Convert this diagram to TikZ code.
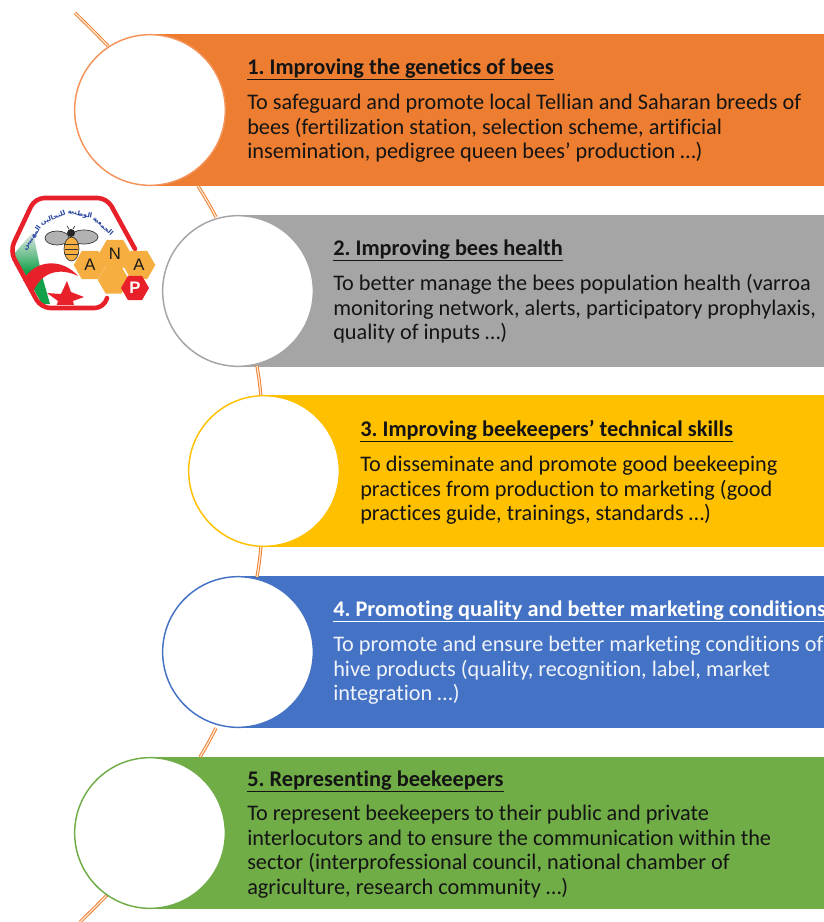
\documentclass[tikz,border=0pt]{standalone}
\usepackage{fontspec}
\setmainfont{Carlito}[Ligatures=NoCommon]
\newfontfamily\arabicfont[Script=Arabic]{DejaVu Sans}
\newfontfamily\logofont{Liberation Sans}
\TeXXeTstate=1
\usetikzlibrary{shapes.geometric,shadings}
\definecolor{cOrange}{HTML}{ED7D31}
\definecolor{cGrey}{HTML}{A5A5A5}
\definecolor{cYellow}{HTML}{FFC000}
\definecolor{cBlue}{HTML}{4472C4}
\definecolor{cGreen}{HTML}{70AD47}
\definecolor{cRing}{HTML}{F4935A}
\definecolor{cText}{HTML}{141414}
\definecolor{cHex}{HTML}{F5AE3F}
\definecolor{cRed}{HTML}{E8202A}
\definecolor{cFlag}{HTML}{12A04A}
\definecolor{cArab}{HTML}{1F3F9B}
\newcommand{\ttl}[1]{\underline{\smash{#1}\vphantom{gy}}}
\tikzset{
 bar/.style={anchor=west,inner sep=0pt,minimum height=113.5pt,draw=none},
 ring/.style={circle,fill=white,draw=#1,line width=1.1pt,minimum size=113pt,inner sep=0pt},
 link/.style={draw=cOrange,double=white!80!orange,double distance=1pt,line width=0.7pt},
 title/.style={anchor=base west,inner sep=0pt,font=\frenchspacing\fontsize{16.75}{18}\selectfont\bfseries,text=cText},
 body/.style={anchor=north west,inner sep=0pt,align=left,font=\frenchspacing\fontsize{16.7}{18.4}\selectfont,text=cText},
 hexa/.style={regular polygon,regular polygon sides=6,shape border rotate=0,fill=cHex,inner sep=0pt,minimum size=#1,font=\logofont\fontsize{12.5}{12.5}\selectfont,text=black!90},
 word/.style={inner sep=0pt,text=cArab,font=\arabicfont\bfseries\fontsize{5}{5.5}\selectfont}
}
\begin{document}
\begin{tikzpicture}[x=0.75pt,y=-0.75pt]
\useasboundingbox (0,0) rectangle (824,922);
% bars
\node[bar,fill=cOrange,minimum width=505.5pt] (b1) at (150,110) {};
\node[bar,fill=cGrey,minimum width=439.5pt] (b2) at (238,291) {};
\node[bar,fill=cYellow,minimum width=420pt] (b3) at (264,471) {};
\node[bar,fill=cBlue,minimum width=439.5pt] (b4) at (238,652) {};
\node[bar,fill=cGreen,minimum width=505.5pt] (b5) at (150,833) {};
% free ends and joints
\coordinate (top) at (75,13);
\coordinate (bot) at (80,922);
\coordinate (j12) at (198,186);
\coordinate (j23) at (257,366);
\coordinate (j34) at (261,546);
\coordinate (j45) at (216,728);
\coordinate (j56) at (200,757);
\coordinate (j2) at (216,217);
\coordinate (j3) at (261,397);
\coordinate (j4) at (257,577);
\coordinate (j1) at (108,46);
\coordinate (j5) at (107,895);
% connectors
\draw[link] (top) to[bend left=1] (j1);
\draw[link] (j12) to[bend left=2] (j2);
\draw[link] (j23) to[bend left=2] (j3);
\draw[link] (j34) to[bend left=2] (j4);
\draw[link] (j45) to[bend left=2] (j56);
\draw[link] (j5) to[bend left=1] (bot);
% circles
\node[ring=cRing] (c1) at (150,110) {};
\node[ring=cGrey] (c2) at (238,291) {};
\node[ring=cYellow] (c3) at (264,471) {};
\node[ring=cBlue] (c4) at (238,652) {};
\node[ring=cGreen] (c5) at (150,833) {};
% texts
\node[title] (t1) at (247,74) {\ttl{1. Improving the genetics of bees}};
\node[body] (d1) at (247,94) {To safeguard and promote local Tellian and Saharan breeds of\\bees (fertilization station, selection scheme, artificial\\insemination, pedigree queen bees’ production …)};
\node[title] (t2) at (333,255) {\ttl{2. Improving bees health}};
\node[body] (d2) at (333,274) {To better manage the bees population health (varroa\\monitoring network, alerts, participatory prophylaxis,\\quality of inputs …)};
\node[title] (t3) at (360,436) {\ttl{3. Improving beekeepers’ technical skills}};
\node[body] (d3) at (360,456) {To disseminate and promote good beekeeping\\practices from production to marketing (good\\practices guide, trainings, standards …)};
\node[title,text=white] (t4) at (333,616) {\ttl{4. Promoting quality and better marketing conditions}};
\node[body,text=white!92!cBlue] (d4) at (333,636) {To promote and ensure better marketing conditions of\\hive products (quality, recognition, label, market\\integration …)};
\node[title] (t5) at (247,786) {\ttl{5. Representing beekeepers}};
\node[body] (d5) at (247,805) {To represent beekeepers to their public and private\\interlocutors and to ensure the communication within the\\sector (interprofessional council, national chamber of\\agriculture, research community …)};
% logo
\shade[top color=black!8,bottom color=cFlag] (13,255) -- (33,232) -- (41,272) -- (24,272) -- cycle;
\fill[cFlag] (24,272) -- (41,272) -- (50,304) -- (42,304) -- cycle;
\draw[cRed,line width=3.4pt,line join=round,rounded corners=7pt,line cap=round] (135,249) -- (107,198) -- (35,198) -- (10,251) -- (41,308) -- (104,308) -- (107,298);
\fill[cRed] (23,280) .. controls (36,259) and (62,258) .. (78,276) .. controls (62,268) and (42,270) .. (33,292) -- cycle;
\begin{scope}
\clip (40,270) rectangle (95,304);
\fill[cRed] (67,281) -- (71,292) -- (84,297) -- (73,301) -- (76,314) -- (65,306) -- (54,313) -- (58,301) -- (47,293) -- (61,294) -- cycle;
\end{scope}
% bee
\fill[black!30,draw=black!80,line width=0.5pt] (57,238) ellipse [x radius=12,y radius=7];
\fill[black!30,draw=black!80,line width=0.5pt] (84,237) ellipse [x radius=14,y radius=7];
\fill[cHex,draw=black!80,line width=0.5pt] (71.5,249) ellipse [x radius=7.5,y radius=12];
\foreach \yy in {244,249,254}{\draw[black!80,line width=0.6pt] (65,\yy) -- (78,\yy);}
\fill[black!85] (71,233) ellipse [x radius=4,y radius=4];
\draw[black!85,line width=0.5pt] (69,229) -- (67,226) (73,229) -- (75,226);
% emblem words
\node[word,rotate=-42] (w1) at (103,226) {\beginR الجمعية\endR};
\node[word,rotate=-12] (w2) at (80,214) {\beginR الوطنية\endR};
\node[word,rotate=20] (w3) at (53,218) {\beginR للنحالين\endR};
\node[word,rotate=56] (w4) at (32,238) {\beginR المهنيين\endR};
% honeycomb
\node[hexa=24.5pt] (h1) at (90,265) {A};
\node[hexa=24.5pt] (h2) at (115,254) {N};
\node[hexa=24.5pt] (h3) at (139,265) {A};
\node[hexa=23.5pt] (h4) at (113.5,280) {};
\node[hexa=21pt,fill=cRed,text=white,font=\logofont\bfseries\fontsize{12.5}{12.5}\selectfont] (h5) at (135,288) {P};
\end{tikzpicture}
\end{document}
